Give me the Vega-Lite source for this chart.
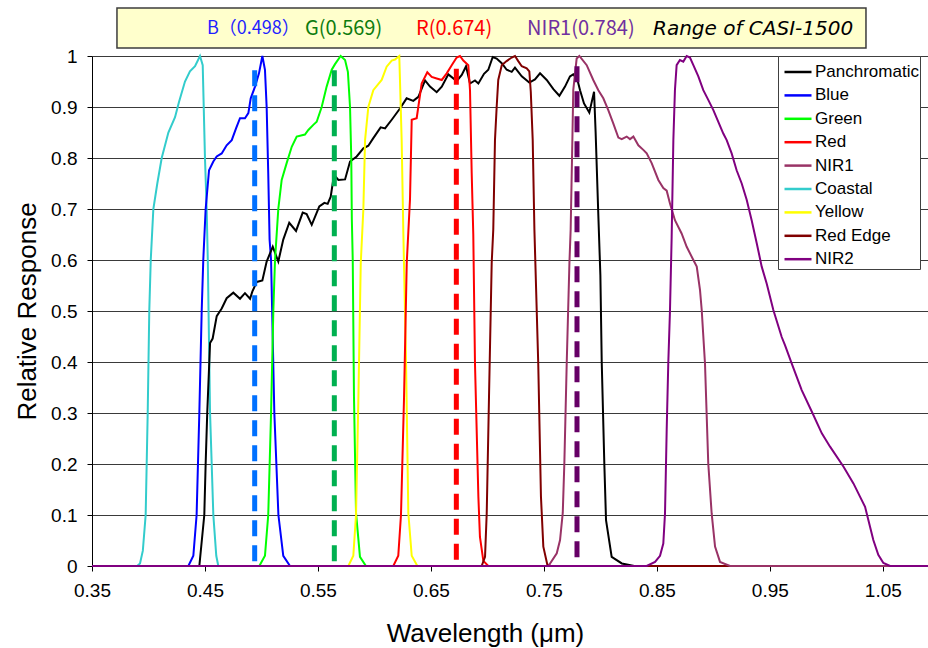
{
  "$schema": "https://vega.github.io/schema/vega-lite/v6.json",
  "width": 836,
  "height": 510,
  "autosize": {"type": "none"},
  "padding": {"left": 92, "top": 56, "right": 0, "bottom": 82},
  "background": "white",
  "config": {
    "view": {"stroke": null},
    "font": "Liberation Sans",
    "axis": {"labelColor": "#000000", "titleColor": "#000000", "titleFontWeight": "normal", "labelFont": "Liberation Sans", "titleFont": "Liberation Sans"}
  },
  "datasets": {
    "curves": [
      {"b":"Coastal","w":0.35,"r":0},{"b":"Coastal","w":0.39,"r":0},{"b":"Coastal","w":0.3925,"r":0.005},{"b":"Coastal","w":0.395,"r":0.03},{"b":"Coastal","w":0.3975,"r":0.1},{"b":"Coastal","w":0.3993,"r":0.3},{"b":"Coastal","w":0.4007,"r":0.5},{"b":"Coastal","w":0.402,"r":0.6},{"b":"Coastal","w":0.4043,"r":0.7},{"b":"Coastal","w":0.4078,"r":0.75},{"b":"Coastal","w":0.4117,"r":0.8},{"b":"Coastal","w":0.4176,"r":0.85},{"b":"Coastal","w":0.4235,"r":0.88},{"b":"Coastal","w":0.427,"r":0.91},{"b":"Coastal","w":0.4323,"r":0.95},{"b":"Coastal","w":0.4367,"r":0.97},{"b":"Coastal","w":0.4412,"r":0.98},{"b":"Coastal","w":0.4456,"r":1.0},{"b":"Coastal","w":0.448,"r":0.982},{"b":"Coastal","w":0.45,"r":0.8},{"b":"Coastal","w":0.4515,"r":0.7},{"b":"Coastal","w":0.4525,"r":0.6},{"b":"Coastal","w":0.4545,"r":0.3},{"b":"Coastal","w":0.4574,"r":0.1},{"b":"Coastal","w":0.46,"r":0.02},{"b":"Coastal","w":0.4618,"r":0},{"b":"Coastal","w":1.09,"r":0},
      {"b":"Blue","w":0.35,"r":0},{"b":"Blue","w":0.4353,"r":0},{"b":"Blue","w":0.4397,"r":0.02},{"b":"Blue","w":0.4426,"r":0.1},{"b":"Blue","w":0.445,"r":0.3},{"b":"Blue","w":0.4471,"r":0.5},{"b":"Blue","w":0.4485,"r":0.6},{"b":"Blue","w":0.4506,"r":0.7},{"b":"Blue","w":0.4536,"r":0.776},{"b":"Blue","w":0.4574,"r":0.793},{"b":"Blue","w":0.4604,"r":0.803},{"b":"Blue","w":0.4648,"r":0.809},{"b":"Blue","w":0.4692,"r":0.825},{"b":"Blue","w":0.4737,"r":0.835},{"b":"Blue","w":0.4775,"r":0.858},{"b":"Blue","w":0.481,"r":0.878},{"b":"Blue","w":0.4854,"r":0.878},{"b":"Blue","w":0.4884,"r":0.888},{"b":"Blue","w":0.4905,"r":0.917},{"b":"Blue","w":0.4943,"r":0.94},{"b":"Blue","w":0.4978,"r":0.966},{"b":"Blue","w":0.5008,"r":1.0},{"b":"Blue","w":0.5031,"r":0.973},{"b":"Blue","w":0.5046,"r":0.9},{"b":"Blue","w":0.506,"r":0.77},{"b":"Blue","w":0.5072,"r":0.64},{"b":"Blue","w":0.5085,"r":0.6},{"b":"Blue","w":0.5114,"r":0.3},{"b":"Blue","w":0.515,"r":0.1},{"b":"Blue","w":0.5193,"r":0.02},{"b":"Blue","w":0.5253,"r":0},{"b":"Blue","w":1.09,"r":0},
      {"b":"Panchromatic","w":0.35,"r":0},{"b":"Panchromatic","w":0.445,"r":0},{"b":"Panchromatic","w":0.4494,"r":0.1},{"b":"Panchromatic","w":0.4506,"r":0.2},{"b":"Panchromatic","w":0.452,"r":0.3},{"b":"Panchromatic","w":0.4545,"r":0.437},{"b":"Panchromatic","w":0.4568,"r":0.446},{"b":"Panchromatic","w":0.4604,"r":0.49},{"b":"Panchromatic","w":0.4648,"r":0.505},{"b":"Panchromatic","w":0.4692,"r":0.525},{"b":"Panchromatic","w":0.4751,"r":0.536},{"b":"Panchromatic","w":0.481,"r":0.524},{"b":"Panchromatic","w":0.4854,"r":0.535},{"b":"Panchromatic","w":0.4899,"r":0.524},{"b":"Panchromatic","w":0.4919,"r":0.538},{"b":"Panchromatic","w":0.4958,"r":0.557},{"b":"Panchromatic","w":0.5008,"r":0.56},{"b":"Panchromatic","w":0.5046,"r":0.597},{"b":"Panchromatic","w":0.51,"r":0.626},{"b":"Panchromatic","w":0.5149,"r":0.597},{"b":"Panchromatic","w":0.5193,"r":0.64},{"b":"Panchromatic","w":0.5246,"r":0.673},{"b":"Panchromatic","w":0.5306,"r":0.657},{"b":"Panchromatic","w":0.5365,"r":0.693},{"b":"Panchromatic","w":0.54,"r":0.69},{"b":"Panchromatic","w":0.5445,"r":0.669},{"b":"Panchromatic","w":0.5512,"r":0.705},{"b":"Panchromatic","w":0.5557,"r":0.712},{"b":"Panchromatic","w":0.5586,"r":0.71},{"b":"Panchromatic","w":0.5613,"r":0.724},{"b":"Panchromatic","w":0.5642,"r":0.767},{"b":"Panchromatic","w":0.5681,"r":0.757},{"b":"Panchromatic","w":0.574,"r":0.758},{"b":"Panchromatic","w":0.5784,"r":0.793},{"b":"Panchromatic","w":0.5843,"r":0.803},{"b":"Panchromatic","w":0.5902,"r":0.819},{"b":"Panchromatic","w":0.5946,"r":0.824},{"b":"Panchromatic","w":0.599,"r":0.839},{"b":"Panchromatic","w":0.6055,"r":0.86},{"b":"Panchromatic","w":0.6094,"r":0.858},{"b":"Panchromatic","w":0.6153,"r":0.875},{"b":"Panchromatic","w":0.6226,"r":0.897},{"b":"Panchromatic","w":0.6285,"r":0.917},{"b":"Panchromatic","w":0.6344,"r":0.912},{"b":"Panchromatic","w":0.6389,"r":0.92},{"b":"Panchromatic","w":0.6448,"r":0.952},{"b":"Panchromatic","w":0.6492,"r":0.94},{"b":"Panchromatic","w":0.6551,"r":0.929},{"b":"Panchromatic","w":0.6596,"r":0.94},{"b":"Panchromatic","w":0.6654,"r":0.964},{"b":"Panchromatic","w":0.6728,"r":0.951},{"b":"Panchromatic","w":0.6773,"r":0.963},{"b":"Panchromatic","w":0.6811,"r":0.98},{"b":"Panchromatic","w":0.6846,"r":0.946},{"b":"Panchromatic","w":0.689,"r":0.952},{"b":"Panchromatic","w":0.692,"r":0.946},{"b":"Panchromatic","w":0.697,"r":0.965},{"b":"Panchromatic","w":0.7008,"r":0.973},{"b":"Panchromatic","w":0.7047,"r":0.998},{"b":"Panchromatic","w":0.7082,"r":0.995},{"b":"Panchromatic","w":0.7127,"r":0.986},{"b":"Panchromatic","w":0.7171,"r":0.973},{"b":"Panchromatic","w":0.7215,"r":0.969},{"b":"Panchromatic","w":0.7244,"r":0.977},{"b":"Panchromatic","w":0.7304,"r":0.96},{"b":"Panchromatic","w":0.7371,"r":0.948},{"b":"Panchromatic","w":0.7421,"r":0.954},{"b":"Panchromatic","w":0.7466,"r":0.966},{"b":"Panchromatic","w":0.7525,"r":0.953},{"b":"Panchromatic","w":0.7584,"r":0.935},{"b":"Panchromatic","w":0.7637,"r":0.922},{"b":"Panchromatic","w":0.7687,"r":0.94},{"b":"Panchromatic","w":0.7731,"r":0.96},{"b":"Panchromatic","w":0.776,"r":0.964},{"b":"Panchromatic","w":0.7796,"r":0.954},{"b":"Panchromatic","w":0.782,"r":0.933},{"b":"Panchromatic","w":0.7855,"r":0.907},{"b":"Panchromatic","w":0.7902,"r":0.889},{"b":"Panchromatic","w":0.7944,"r":0.93},{"b":"Panchromatic","w":0.7958,"r":0.85},{"b":"Panchromatic","w":0.798,"r":0.7},{"b":"Panchromatic","w":0.8,"r":0.57},{"b":"Panchromatic","w":0.8012,"r":0.4},{"b":"Panchromatic","w":0.8035,"r":0.2},{"b":"Panchromatic","w":0.805,"r":0.09},{"b":"Panchromatic","w":0.81,"r":0.018},{"b":"Panchromatic","w":0.819,"r":0.005},{"b":"Panchromatic","w":0.83,"r":0},{"b":"Panchromatic","w":1.09,"r":0},
      {"b":"Green","w":0.35,"r":0},{"b":"Green","w":0.4981,"r":0},{"b":"Green","w":0.5031,"r":0.02},{"b":"Green","w":0.506,"r":0.1},{"b":"Green","w":0.5085,"r":0.3},{"b":"Green","w":0.5105,"r":0.5},{"b":"Green","w":0.512,"r":0.6},{"b":"Green","w":0.5149,"r":0.7},{"b":"Green","w":0.5179,"r":0.757},{"b":"Green","w":0.5223,"r":0.79},{"b":"Green","w":0.5268,"r":0.822},{"b":"Green","w":0.5312,"r":0.842},{"b":"Green","w":0.5385,"r":0.846},{"b":"Green","w":0.5415,"r":0.855},{"b":"Green","w":0.5459,"r":0.865},{"b":"Green","w":0.5489,"r":0.871},{"b":"Green","w":0.5533,"r":0.9},{"b":"Green","w":0.5577,"r":0.94},{"b":"Green","w":0.5622,"r":0.973},{"b":"Green","w":0.5651,"r":0.984},{"b":"Green","w":0.5701,"r":1.0},{"b":"Green","w":0.574,"r":0.992},{"b":"Green","w":0.5765,"r":0.969},{"b":"Green","w":0.5784,"r":0.9},{"b":"Green","w":0.5795,"r":0.8},{"b":"Green","w":0.58,"r":0.68},{"b":"Green","w":0.5808,"r":0.6},{"b":"Green","w":0.5819,"r":0.332},{"b":"Green","w":0.5837,"r":0.104},{"b":"Green","w":0.5872,"r":0.018},{"b":"Green","w":0.5925,"r":0},{"b":"Green","w":1.09,"r":0},
      {"b":"Yellow","w":0.35,"r":0},{"b":"Yellow","w":0.5769,"r":0},{"b":"Yellow","w":0.5813,"r":0.02},{"b":"Yellow","w":0.5837,"r":0.1},{"b":"Yellow","w":0.5858,"r":0.33},{"b":"Yellow","w":0.5879,"r":0.594},{"b":"Yellow","w":0.5902,"r":0.7},{"b":"Yellow","w":0.5917,"r":0.835},{"b":"Yellow","w":0.5946,"r":0.9},{"b":"Yellow","w":0.599,"r":0.933},{"b":"Yellow","w":0.6064,"r":0.953},{"b":"Yellow","w":0.6108,"r":0.979},{"b":"Yellow","w":0.6153,"r":0.991},{"b":"Yellow","w":0.6182,"r":0.993},{"b":"Yellow","w":0.622,"r":1.0},{"b":"Yellow","w":0.6226,"r":0.953},{"b":"Yellow","w":0.6241,"r":0.835},{"b":"Yellow","w":0.6256,"r":0.652},{"b":"Yellow","w":0.628,"r":0.397},{"b":"Yellow","w":0.63,"r":0.104},{"b":"Yellow","w":0.633,"r":0.02},{"b":"Yellow","w":0.638,"r":0},{"b":"Yellow","w":1.09,"r":0},
      {"b":"Red","w":0.35,"r":0},{"b":"Red","w":0.6167,"r":0},{"b":"Red","w":0.6211,"r":0.02},{"b":"Red","w":0.6235,"r":0.1},{"b":"Red","w":0.6262,"r":0.33},{"b":"Red","w":0.6286,"r":0.594},{"b":"Red","w":0.6315,"r":0.72},{"b":"Red","w":0.633,"r":0.875},{"b":"Red","w":0.6374,"r":0.878},{"b":"Red","w":0.6418,"r":0.946},{"b":"Red","w":0.6468,"r":0.968},{"b":"Red","w":0.6507,"r":0.959},{"b":"Red","w":0.6551,"r":0.956},{"b":"Red","w":0.6596,"r":0.953},{"b":"Red","w":0.664,"r":0.966},{"b":"Red","w":0.6684,"r":0.982},{"b":"Red","w":0.6728,"r":0.997},{"b":"Red","w":0.6757,"r":1.0},{"b":"Red","w":0.6787,"r":0.991},{"b":"Red","w":0.6831,"r":0.982},{"b":"Red","w":0.6846,"r":0.933},{"b":"Red","w":0.6861,"r":0.77},{"b":"Red","w":0.6875,"r":0.65},{"b":"Red","w":0.689,"r":0.397},{"b":"Red","w":0.692,"r":0.136},{"b":"Red","w":0.6934,"r":0.057},{"b":"Red","w":0.6964,"r":0.01},{"b":"Red","w":0.7008,"r":0},{"b":"Red","w":1.09,"r":0},
      {"b":"Red Edge","w":0.35,"r":0},{"b":"Red Edge","w":0.6949,"r":0},{"b":"Red Edge","w":0.6979,"r":0.018},{"b":"Red Edge","w":0.6994,"r":0.104},{"b":"Red Edge","w":0.7014,"r":0.33},{"b":"Red Edge","w":0.7038,"r":0.594},{"b":"Red Edge","w":0.7052,"r":0.66},{"b":"Red Edge","w":0.7067,"r":0.835},{"b":"Red Edge","w":0.7082,"r":0.9},{"b":"Red Edge","w":0.7096,"r":0.953},{"b":"Red Edge","w":0.7127,"r":0.982},{"b":"Red Edge","w":0.717,"r":0.99},{"b":"Red Edge","w":0.7215,"r":0.997},{"b":"Red Edge","w":0.7244,"r":1.0},{"b":"Red Edge","w":0.7273,"r":0.99},{"b":"Red Edge","w":0.7304,"r":0.98},{"b":"Red Edge","w":0.7348,"r":0.976},{"b":"Red Edge","w":0.7371,"r":0.97},{"b":"Red Edge","w":0.7384,"r":0.93},{"b":"Red Edge","w":0.7401,"r":0.835},{"b":"Red Edge","w":0.7416,"r":0.66},{"b":"Red Edge","w":0.745,"r":0.397},{"b":"Red Edge","w":0.7474,"r":0.136},{"b":"Red Edge","w":0.7495,"r":0.038},{"b":"Red Edge","w":0.753,"r":0.003},{"b":"Red Edge","w":0.756,"r":0},{"b":"Red Edge","w":1.09,"r":0},
      {"b":"NIR1","w":0.35,"r":0},{"b":"NIR1","w":0.754,"r":0},{"b":"NIR1","w":0.7614,"r":0.025},{"b":"NIR1","w":0.7643,"r":0.051},{"b":"NIR1","w":0.7667,"r":0.104},{"b":"NIR1","w":0.7681,"r":0.201},{"b":"NIR1","w":0.7702,"r":0.397},{"b":"NIR1","w":0.7726,"r":0.594},{"b":"NIR1","w":0.7737,"r":0.66},{"b":"NIR1","w":0.7752,"r":0.835},{"b":"NIR1","w":0.776,"r":0.933},{"b":"NIR1","w":0.779,"r":0.995},{"b":"NIR1","w":0.7814,"r":1.0},{"b":"NIR1","w":0.7879,"r":0.982},{"b":"NIR1","w":0.7937,"r":0.953},{"b":"NIR1","w":0.7982,"r":0.933},{"b":"NIR1","w":0.8026,"r":0.917},{"b":"NIR1","w":0.807,"r":0.894},{"b":"NIR1","w":0.8114,"r":0.868},{"b":"NIR1","w":0.8159,"r":0.84},{"b":"NIR1","w":0.8189,"r":0.837},{"b":"NIR1","w":0.8233,"r":0.842},{"b":"NIR1","w":0.8262,"r":0.837},{"b":"NIR1","w":0.8292,"r":0.842},{"b":"NIR1","w":0.8336,"r":0.825},{"b":"NIR1","w":0.838,"r":0.816},{"b":"NIR1","w":0.841,"r":0.809},{"b":"NIR1","w":0.8454,"r":0.79},{"b":"NIR1","w":0.8513,"r":0.757},{"b":"NIR1","w":0.8557,"r":0.741},{"b":"NIR1","w":0.8587,"r":0.736},{"b":"NIR1","w":0.8616,"r":0.711},{"b":"NIR1","w":0.866,"r":0.678},{"b":"NIR1","w":0.8719,"r":0.652},{"b":"NIR1","w":0.8764,"r":0.626},{"b":"NIR1","w":0.8823,"r":0.6},{"b":"NIR1","w":0.8853,"r":0.587},{"b":"NIR1","w":0.8882,"r":0.541},{"b":"NIR1","w":0.8897,"r":0.502},{"b":"NIR1","w":0.8926,"r":0.397},{"b":"NIR1","w":0.8955,"r":0.201},{"b":"NIR1","w":0.8985,"r":0.103},{"b":"NIR1","w":0.9015,"r":0.038},{"b":"NIR1","w":0.9059,"r":0.008},{"b":"NIR1","w":0.9147,"r":0},{"b":"NIR1","w":1.09,"r":0},
      {"b":"NIR2","w":0.35,"r":0},{"b":"NIR2","w":0.841,"r":0},{"b":"NIR2","w":0.8484,"r":0.008},{"b":"NIR2","w":0.8528,"r":0.02},{"b":"NIR2","w":0.8557,"r":0.044},{"b":"NIR2","w":0.8572,"r":0.103},{"b":"NIR2","w":0.8587,"r":0.267},{"b":"NIR2","w":0.8601,"r":0.397},{"b":"NIR2","w":0.8616,"r":0.5},{"b":"NIR2","w":0.8631,"r":0.645},{"b":"NIR2","w":0.8646,"r":0.835},{"b":"NIR2","w":0.866,"r":0.933},{"b":"NIR2","w":0.8675,"r":0.982},{"b":"NIR2","w":0.8704,"r":0.992},{"b":"NIR2","w":0.8734,"r":0.989},{"b":"NIR2","w":0.8764,"r":1.0},{"b":"NIR2","w":0.8793,"r":0.997},{"b":"NIR2","w":0.8823,"r":0.982},{"b":"NIR2","w":0.8867,"r":0.96},{"b":"NIR2","w":0.8911,"r":0.933},{"b":"NIR2","w":0.8955,"r":0.914},{"b":"NIR2","w":0.9,"r":0.894},{"b":"NIR2","w":0.9044,"r":0.871},{"b":"NIR2","w":0.9088,"r":0.848},{"b":"NIR2","w":0.9118,"r":0.835},{"b":"NIR2","w":0.9162,"r":0.809},{"b":"NIR2","w":0.9206,"r":0.776},{"b":"NIR2","w":0.9251,"r":0.75},{"b":"NIR2","w":0.9295,"r":0.718},{"b":"NIR2","w":0.9339,"r":0.678},{"b":"NIR2","w":0.9384,"r":0.633},{"b":"NIR2","w":0.9428,"r":0.587},{"b":"NIR2","w":0.9472,"r":0.554},{"b":"NIR2","w":0.9531,"r":0.502},{"b":"NIR2","w":0.9605,"r":0.449},{"b":"NIR2","w":0.9634,"r":0.433},{"b":"NIR2","w":0.9694,"r":0.397},{"b":"NIR2","w":0.9782,"r":0.345},{"b":"NIR2","w":0.9871,"r":0.303},{"b":"NIR2","w":0.996,"r":0.26},{"b":"NIR2","w":1.0033,"r":0.234},{"b":"NIR2","w":1.0151,"r":0.195},{"b":"NIR2","w":1.024,"r":0.162},{"b":"NIR2","w":1.0298,"r":0.136},{"b":"NIR2","w":1.0343,"r":0.116},{"b":"NIR2","w":1.0372,"r":0.09},{"b":"NIR2","w":1.0416,"r":0.051},{"b":"NIR2","w":1.046,"r":0.022},{"b":"NIR2","w":1.0505,"r":0.006},{"b":"NIR2","w":1.0564,"r":0},{"b":"NIR2","w":1.09,"r":0}
    ],
    "centres": [
      {"n":"B","w":0.494,"top":0.972},
      {"n":"G","w":0.5645,"top":0.972},
      {"n":"R","w":0.6725,"top":0.975},
      {"n":"NIR1","w":0.7793,"top":0.98}
    ],
    "notes": [
      {"t":"G(0.569)","w":0.5385},
      {"t":"R(0.674)","w":0.6368},
      {"t":"NIR1(0.784)","w":0.7351}
    ],
    "box": [
      {"label":"Range of CASI-1500","blue":"B（0.498）","bx":0.4518,"x1":0.3721,"x2":1.0351,"y1":1.0941,"y2":1.0157,"tx":0.8466,"ty":1.0529}
    ]
  },
  "layer": [
    {
      "data": {"name": "box"},
      "mark": {"type": "rect", "fill": "#ffffcc", "stroke": "#3c3c3c", "strokeWidth": 1.5},
      "encoding": {
        "x": {"field": "x1", "type": "quantitative"},
        "x2": {"field": "x2"},
        "y": {"field": "y1", "type": "quantitative"},
        "y2": {"field": "y2"}
      }
    },
    {
      "data": {"name": "box"},
      "mark": {"type": "text", "align": "left", "baseline": "middle", "font": "Noto Sans CJK SC", "fontSize": 18, "color": "#1f1fff"},
      "encoding": {
        "x": {"field": "bx", "type": "quantitative"},
        "y": {"field": "ty", "type": "quantitative"},
        "text": {"field": "blue"}
      }
    },
    {
      "data": {"name": "notes"},
      "mark": {"type": "text", "align": "left", "baseline": "middle", "font": "Noto Sans CJK SC", "fontSize": 20},
      "encoding": {
        "x": {"field": "w", "type": "quantitative"},
        "y": {"datum": 1.0529, "type": "quantitative"},
        "text": {"field": "t"},
        "fill": {"field": "t", "type": "nominal", "legend": null,
          "scale": {"domain": ["G(0.569)", "R(0.674)", "NIR1(0.784)"], "range": ["#0e7c0e", "#ff0000", "#7030a0"]}}
      }
    },
    {
      "data": {"name": "box"},
      "mark": {"type": "text", "align": "left", "baseline": "middle", "font": "DejaVu Sans", "fontStyle": "italic", "fontSize": 20, "color": "#000000"},
      "encoding": {
        "x": {"field": "tx", "type": "quantitative"},
        "y": {"field": "ty", "type": "quantitative"},
        "text": {"field": "label"}
      }
    },
    {
      "data": {"name": "curves"},
      "mark": {"type": "line", "strokeWidth": 2, "interpolate": "linear"},
      "encoding": {
        "x": {"field": "w", "type": "quantitative",
          "scale": {"domain": [0.35, 1.09], "nice": false, "zero": false},
          "axis": {"values": [0.35, 0.45, 0.55, 0.65, 0.75, 0.85, 0.95, 1.05], "format": ".2f", "grid": false, "labelFlush": false,
            "labelFontSize": 19, "labelPadding": 10, "tickSize": 5, "tickColor": "#000000", "domainColor": "#000000", "domainWidth": 1,
            "title": "Wavelength (μm)", "titleFontSize": 26, "titleX": 393, "titleY": 67, "titleBaseline": "middle", "titleAlign": "center"}},
        "y": {"field": "r", "type": "quantitative",
          "scale": {"domain": [0, 1], "nice": false, "zero": true},
          "axis": {"values": [0, 0.1, 0.2, 0.3, 0.4, 0.5, 0.6, 0.7, 0.8, 0.9, 1], "format": "~g", "grid": true, "gridColor": "#3a3a3a", "gridWidth": 1.2, "labelFlush": false,
            "labelFontSize": 19, "labelPadding": 10, "tickSize": 5, "tickColor": "#000000", "domainColor": "#000000", "domainWidth": 1,
            "title": "Relative Response", "titleFontSize": 26, "titleX": -65, "titleY": 255, "titleBaseline": "middle", "titleAlign": "center", "titleAngle": -90}},
        "color": {"field": "b", "type": "nominal",
          "scale": {"domain": ["Panchromatic", "Blue", "Green", "Red", "NIR1", "Coastal", "Yellow", "Red Edge", "NIR2"],
            "range": ["#000000", "#0000ff", "#00ff00", "#ff0000", "#993366", "#33cccc", "#ffff00", "#800000", "#800080"]},
          "legend": {"title": null, "orient": "none", "legendX": 686, "legendY": 0, "fillColor": "#ffffff", "strokeColor": "#404040",
            "padding": 1, "symbolOffset": 4, "symbolType": "stroke", "symbolSize": 729, "symbolStrokeWidth": 2.5, "labelFont": "Liberation Sans",
            "labelFontSize": 17, "labelColor": "#000000", "labelOffset": 2, "rowPadding": 0.4}}
      }
    },
    {
      "data": {"name": "centres"},
      "mark": {"type": "rule", "strokeWidth": 5, "strokeDash": [16, 9]},
      "encoding": {
        "x": {"field": "w", "type": "quantitative"},
        "y": {"field": "top", "type": "quantitative"},
        "y2": {"datum": 0},
        "stroke": {"field": "n", "type": "nominal", "legend": null,
          "scale": {"domain": ["B", "G", "R", "NIR1"], "range": ["#0070ff", "#00b050", "#ff0000", "#660066"]}}
      }
    }
  ]
}
